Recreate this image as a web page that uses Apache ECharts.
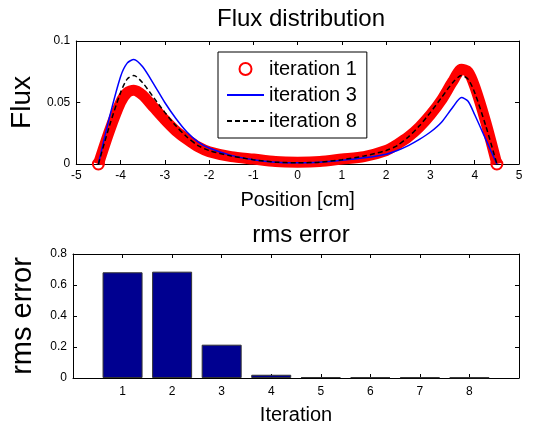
<!DOCTYPE html>
<html>
<head>
<meta charset="utf-8">
<script src="https://cdn.jsdelivr.net/npm/echarts@6/dist/echarts.min.js"></script>
<style>
    html, body { margin: 0; padding: 0; background: #fff; }
    #main { width: 547px; height: 427px; }
</style>
</head>
<body>
<div id="main"></div>
<script>
// sample positions along the slab [cm]
const positions = [-4.5, -4.25, -4.0, -3.85, -3.7, -3.5, -3.25, -3.0, -2.75, -2.5, -2.25, -2.0, -1.5, -1.0, -0.5, 0,
    0.5, 1.0, 1.5, 2.0, 2.25, 2.5, 2.75, 3.0, 3.25, 3.5, 3.7, 3.85, 4.0, 4.25, 4.5];
const iter1Flux = [0, 0.027, 0.050, 0.058, 0.060, 0.056, 0.046, 0.036, 0.027, 0.020, 0.014, 0.010, 0.006, 0.004, 0.002, 0.0015,
    0.002, 0.004, 0.006, 0.011, 0.016, 0.022, 0.030, 0.040, 0.052, 0.067, 0.077, 0.075, 0.063, 0.034, 0];
const iter3Flux = [0, 0.038, 0.071, 0.082, 0.085, 0.079, 0.065, 0.050, 0.037, 0.026, 0.018, 0.013, 0.007, 0.0035, 0.0015, 0.001,
    0.0015, 0.003, 0.005, 0.008, 0.011, 0.015, 0.020, 0.026, 0.034, 0.046, 0.054, 0.051, 0.040, 0.020, 0];
const iter8Flux = [0, 0.031, 0.058, 0.069, 0.072, 0.066, 0.054, 0.042, 0.031, 0.022, 0.015, 0.011, 0.0065, 0.0035, 0.0015, 0.001,
    0.0015, 0.0035, 0.0065, 0.011, 0.015, 0.022, 0.031, 0.042, 0.054, 0.066, 0.072, 0.069, 0.058, 0.031, 0];

const iterations = [1, 2, 3, 4, 5, 6, 7, 8];
const rmsError = [0.682, 0.686, 0.215, 0.021, 0.006, 0.005, 0.005, 0.004];

const FONT = 'Liberation Sans';

function pairs(xs, ys) {
    return xs.map(function (x, i) { return [x, ys[i]]; });
}

// MATLAB style box: ticks inside, mirrored on top / right
function boxAxis(extra) {
    return Object.assign({
        type: 'value',
        axisLine: { show: true, onZero: false, lineStyle: { color: '#000', width: 1 } },
        axisTick: { show: true, inside: true, length: 4, lineStyle: { color: '#000' } },
        splitLine: { show: false },
        axisLabel: { color: '#000', fontFamily: FONT, fontSize: 12, margin: 6 },
        nameTextStyle: { color: '#000', fontFamily: FONT }
    }, extra);
}

const chart = echarts.init(document.getElementById('main'));

const hiddenMarker = { color: 'rgba(0,0,0,0)', borderWidth: 0 };

const option = {
    animation: false,
    backgroundColor: '#fff',
    title: [
        { text: 'Flux distribution', left: 296, top: 2, textAlign: 'center',
          textStyle: { fontFamily: FONT, fontSize: 24, fontWeight: 'normal', color: '#000' } },
        { text: 'rms error', left: 296, top: 218, textAlign: 'center',
          textStyle: { fontFamily: FONT, fontSize: 24, fontWeight: 'normal', color: '#000' } }
    ],
    grid: [
        { left: 73, right: 28, top: 41, height: 123 },
        { left: 73, right: 28, top: 254, height: 124 }
    ],
    legend: {
        orient: 'vertical',
        left: 218, top: 52,
        padding: [7, 10, 7, 8],
        itemWidth: 37, itemHeight: 12, itemGap: 6,
        borderColor: '#000', borderWidth: 1, backgroundColor: '#fff',
        textStyle: { fontFamily: FONT, fontSize: 20, color: '#000' },
        data: [
            { name: 'iteration 1', icon: 'circle',
              itemStyle: { color: 'rgba(0,0,0,0)', borderColor: '#ff0000', borderWidth: 2 } },
            { name: 'iteration 3', itemStyle: hiddenMarker },
            { name: 'iteration 8', itemStyle: hiddenMarker }
        ]
    },
    xAxis: [
        boxAxis({ gridIndex: 0, min: -5, max: 5, interval: 1,
            name: 'Position [cm]', nameLocation: 'middle', nameGap: 26,
            nameTextStyle: { color: '#000', fontFamily: FONT, fontSize: 20 } }),
        boxAxis({ gridIndex: 0, position: 'top', min: -5, max: 5, interval: 1,
            axisLabel: { show: false } }),
        boxAxis({ gridIndex: 1, min: 0, max: 9, interval: 1,
            name: 'Iteration', nameLocation: 'middle', nameGap: 27,
            nameTextStyle: { color: '#000', fontFamily: FONT, fontSize: 20 },
            axisLabel: { color: '#000', fontFamily: FONT, fontSize: 12, margin: 8,
                formatter: function (v) { return (v >= 1 && v <= 8) ? String(v) : ''; } } }),
        boxAxis({ gridIndex: 1, position: 'top', min: 0, max: 9, interval: 1,
            axisLabel: { show: false } })
    ],
    yAxis: [
        boxAxis({ gridIndex: 0, min: 0, max: 0.1, interval: 0.05,
            name: 'Flux', nameLocation: 'middle', nameGap: 40,
            nameTextStyle: { color: '#000', fontFamily: FONT, fontSize: 28 } }),
        boxAxis({ gridIndex: 0, position: 'right', min: 0, max: 0.1, interval: 0.05,
            axisLabel: { show: false } }),
        boxAxis({ gridIndex: 1, min: 0, max: 0.8, interval: 0.2,
            name: 'rms error', nameLocation: 'middle', nameGap: 36,
            nameTextStyle: { color: '#000', fontFamily: FONT, fontSize: 29 } }),
        boxAxis({ gridIndex: 1, position: 'right', min: 0, max: 0.8, interval: 0.2,
            axisLabel: { show: false } })
    ],
    series: [
        {
            name: 'iteration 1', type: 'line', xAxisIndex: 0, yAxisIndex: 0,
            data: pairs(positions, iter1Flux),
            smooth: 0.25,
            // dense markers read as a solid band; only the end markers stand out
            symbol: function (value, params) {
                return (params.dataIndex === 0 || params.dataIndex === positions.length - 1) ? 'circle' : 'none';
            },
            symbolSize: 11, showAllSymbol: true,
            itemStyle: { color: 'rgba(0,0,0,0)', borderColor: '#ff0000', borderWidth: 2 },
            lineStyle: { color: '#ff0000', width: 11 },
            z: 2
        },
        {
            name: 'iteration 3', type: 'line', xAxisIndex: 0, yAxisIndex: 0,
            data: pairs(positions, iter3Flux),
            smooth: 0.25, symbol: 'none',
            itemStyle: { color: '#0000ff' },
            lineStyle: { color: '#0000ff', width: 1.5 },
            z: 3
        },
        {
            name: 'iteration 8', type: 'line', xAxisIndex: 0, yAxisIndex: 0,
            data: pairs(positions, iter8Flux),
            smooth: 0.25, symbol: 'none',
            itemStyle: { color: '#000' },
            lineStyle: { color: '#000', width: 1.5, type: [5, 3] },
            z: 4
        },
        {
            name: 'rms', type: 'bar', xAxisIndex: 2, yAxisIndex: 2,
            data: pairs(iterations, rmsError),
            barWidth: 40,
            itemStyle: { color: '#000090', borderColor: '#333', borderWidth: 1 }
        }
    ]
};

chart.setOption(option);
</script>
</body>
</html>
